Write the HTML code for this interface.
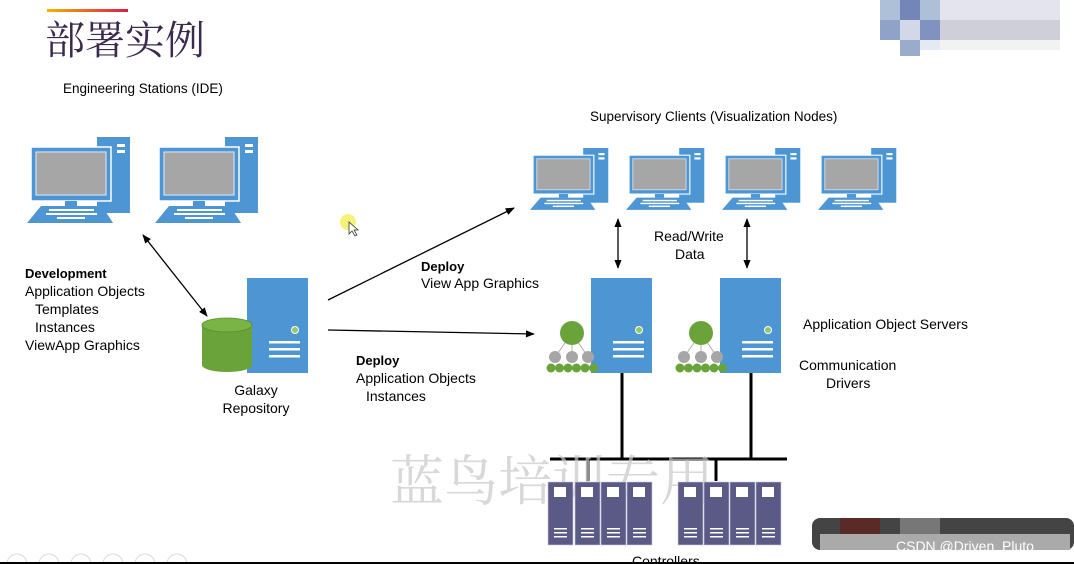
<!DOCTYPE html>
<html><head><meta charset="utf-8"><style>
html,body{margin:0;padding:0;background:#fff;}
body{width:1074px;height:564px;overflow:hidden;position:relative;}
svg{position:absolute;left:0;top:0;}
</style></head><body>
<svg width="1074" height="564" viewBox="0 0 1074 564" xmlns="http://www.w3.org/2000/svg" font-family="Liberation Sans, DejaVu Sans, sans-serif">
<defs>
<linearGradient id="tg" x1="0" x2="1"><stop offset="0" stop-color="#f5b400"/><stop offset="1" stop-color="#e0174a"/></linearGradient>
<g id="pc">
 <rect x="70" y="0" width="33" height="76" fill="#4e95d3"/>
 <rect x="90" y="7" width="8" height="3" fill="#fff"/><rect x="90" y="13" width="8" height="3" fill="#fff"/>
 <rect x="4" y="10" width="80" height="54" fill="#4e95d3" stroke="#fff" stroke-width="1.5"/>
 <rect x="9" y="15" width="70" height="43" fill="#a6a6a6" stroke="#cfe0f2" stroke-width="1.2"/>
 <rect x="38" y="64" width="12" height="5" fill="#4e95d3"/>
 <polygon points="14,69 75,69 86,86 0,86" fill="#4e95d3"/>
 <g fill="#fff"><rect x="22" y="72" width="45" height="2"/><rect x="19" y="76" width="51" height="2"/><rect x="30" y="80" width="28" height="2"/></g>
</g>
<g id="srv">
 <rect x="0" y="0" width="61" height="95" fill="#4e95d3"/>
 <circle cx="48" cy="52" r="3.5" fill="#8fca6a" stroke="#fff" stroke-width="1"/>
 <rect x="22" y="63" width="31" height="2.5" fill="#fff"/><rect x="22" y="70" width="31" height="2.5" fill="#fff"/><rect x="22" y="77" width="31" height="2.5" fill="#fff"/>
</g>
<g id="hier">
 <g stroke="#a0a0a0" stroke-width="0.8"><line x1="0" y1="0" x2="-17" y2="24"/><line x1="0" y1="0" x2="0" y2="24"/><line x1="0" y1="0" x2="16" y2="24"/></g>
 <circle cx="0" cy="0" r="12" fill="#6aa33a"/>
 <circle cx="-17" cy="24" r="6" fill="#a6a6a6"/><circle cx="0" cy="24" r="6" fill="#a6a6a6"/><circle cx="16" cy="24" r="6" fill="#a6a6a6"/>
 <g fill="#6aa33a"><circle cx="-21" cy="35" r="4.5"/><circle cx="-12.5" cy="35" r="4.5"/><circle cx="-4" cy="35" r="4.5"/><circle cx="4.5" cy="35" r="4.5"/><circle cx="13" cy="35" r="4.5"/><circle cx="21.5" cy="35" r="4.5"/></g>
</g>
<g id="cab">
 <rect x="0" y="0" width="25" height="63" fill="#5b5a86" stroke="#c9c8da" stroke-width="0.6"/>
 <rect x="6" y="5" width="12" height="10" fill="#fff"/>
 <rect x="6" y="46" width="13" height="1.5" fill="#fff"/><rect x="6" y="50" width="13" height="1.5" fill="#fff"/><rect x="6" y="54" width="13" height="1.5" fill="#fff"/>
</g>
<marker id="ah" viewBox="0 0 10 10" refX="9" refY="5" markerWidth="7" markerHeight="7" orient="auto-start-reverse"><path d="M0,1 L10,5 L0,9 z" fill="#000"/></marker>
</defs>

<rect x="47" y="9" width="81" height="3" fill="url(#tg)"/>
<text x="45" y="54" font-family="Liberation Serif, Noto Serif CJK SC, serif" font-size="40" fill="#3b2a4e">部署实例</text>

<g>
<rect x="880" y="0" width="20" height="20" fill="#adc0d8"/><rect x="900" y="0" width="20" height="20" fill="#7486b8"/><rect x="920" y="0" width="20" height="20" fill="#adc0d8"/>
<rect x="940" y="0" width="120" height="20" fill="#e4e4ee"/>
<rect x="880" y="20" width="20" height="20" fill="#8fa2c8"/><rect x="900" y="20" width="20" height="20" fill="#d3d8e8"/><rect x="920" y="20" width="20" height="20" fill="#8092c0"/>
<rect x="940" y="20" width="120" height="20" fill="#cfcfda"/>
<rect x="900" y="40" width="20" height="16" fill="#9aabcc"/><rect x="920" y="40" width="20" height="10" fill="#e4eaf2"/><rect x="940" y="40" width="120" height="10" fill="#f2f2f2"/>
</g>

<text x="63" y="93" font-size="13.5" fill="#000">Engineering Stations (IDE)</text>
<use href="#pc" transform="translate(27,137)"/>
<use href="#pc" transform="translate(155,137)"/>

<text x="590" y="121" font-size="13.5" fill="#000">Supervisory Clients (Visualization Nodes)</text>
<use href="#pc" transform="translate(530,148) scale(0.76,0.72)"/>
<use href="#pc" transform="translate(626,148) scale(0.76,0.72)"/>
<use href="#pc" transform="translate(722,148) scale(0.76,0.72)"/>
<use href="#pc" transform="translate(818,148) scale(0.76,0.72)"/>

<circle cx="348" cy="222" r="8" fill="#f4f06a" opacity="0.9"/>
<path d="M349,222 l0,12 l3,-3 l3,5 l2,-1 l-3,-5 l4,0 z" fill="#fff" stroke="#333" stroke-width="0.8"/>

<g font-size="14" fill="#000">
<text x="25" y="278" font-weight="bold" font-size="13">Development</text>
<text x="25" y="296">Application Objects</text>
<text x="35" y="314">Templates</text>
<text x="35" y="332">Instances</text>
<text x="25" y="350">ViewApp Graphics</text>
<text x="421" y="271" font-weight="bold" font-size="13">Deploy</text>
<text x="421" y="288">View App Graphics</text>
<text x="356" y="365" font-weight="bold" font-size="13">Deploy</text>
<text x="356" y="383">Application Objects</text>
<text x="366" y="401">Instances</text>
<text x="256" y="395" text-anchor="middle">Galaxy</text>
<text x="256" y="413" text-anchor="middle">Repository</text>
<text x="654" y="241">Read/Write</text>
<text x="675" y="259">Data</text>
<text x="803" y="329">Application Object Servers</text>
<text x="799" y="370">Communication</text>
<text x="826" y="388">Drivers</text>
<text x="632" y="566">Controllers</text>
</g>

<use href="#srv" transform="translate(247,278)"/>
<path d="M202,325 L202,365 A25,7 0 0 0 252,365 L252,325 Z" fill="#6aa33a"/>
<ellipse cx="227" cy="325" rx="25" ry="7" fill="#79b445" stroke="#5a8f2e" stroke-width="0.8"/>

<g stroke="#000" stroke-width="1.3" fill="none">
<line x1="143" y1="235" x2="207" y2="316" marker-start="url(#ah)" marker-end="url(#ah)"/>
<line x1="328" y1="300" x2="514" y2="208" marker-end="url(#ah)"/>
<line x1="328" y1="330" x2="534" y2="334" marker-end="url(#ah)"/>
<line x1="618" y1="219" x2="618" y2="268" marker-start="url(#ah)" marker-end="url(#ah)"/>
<line x1="747" y1="219" x2="747" y2="268" marker-start="url(#ah)" marker-end="url(#ah)"/>
</g>

<use href="#srv" transform="translate(591,278)"/>
<use href="#srv" transform="translate(720,278)"/>
<use href="#hier" transform="translate(572,333)"/>
<use href="#hier" transform="translate(701,333)"/>

<g stroke="#000" stroke-width="3">
<line x1="622" y1="373" x2="622" y2="459"/>
<line x1="751" y1="373" x2="751" y2="459"/>
<line x1="550" y1="459" x2="787" y2="459"/>
<line x1="588" y1="459" x2="588" y2="481"/>
<line x1="716" y1="459" x2="716" y2="481"/>
</g>

<text x="390" y="500" font-family="Liberation Serif, Noto Serif CJK SC, serif" font-size="54" fill="#c8c8c8" opacity="0.7">蓝鸟培训专用</text>

<use href="#cab" transform="translate(548,482)"/><use href="#cab" transform="translate(575,482)"/><use href="#cab" transform="translate(601,482)"/><use href="#cab" transform="translate(627,482)"/>
<use href="#cab" transform="translate(678,482)"/><use href="#cab" transform="translate(704,482)"/><use href="#cab" transform="translate(730,482)"/><use href="#cab" transform="translate(756,482)"/>

<g fill="none" stroke="#d8d8d8" stroke-width="1">
<circle cx="17" cy="564" r="10"/><circle cx="49" cy="564" r="10"/><circle cx="81" cy="564" r="10"/><circle cx="113" cy="564" r="10"/><circle cx="145" cy="564" r="10"/><circle cx="177" cy="564" r="10"/>
</g>
<rect x="0" y="562" width="1074" height="2" fill="#000"/>
<rect x="812" y="518" width="262" height="32" rx="8" fill="#444"/>
<rect x="840" y="518" width="40" height="16" fill="#5a2a28"/>
<rect x="900" y="518" width="40" height="16" fill="#777"/>
<rect x="820" y="534" width="250" height="16" fill="#aaa"/>
<text x="896" y="551" font-size="14" fill="#fff">CSDN @Driven_Pluto</text>
</svg>
</body></html>
